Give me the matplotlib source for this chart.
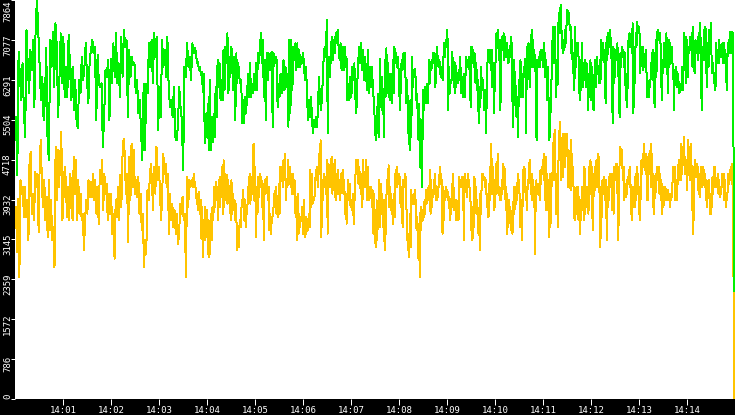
import numpy as np
import matplotlib
matplotlib.use("Agg")
import matplotlib.pyplot as plt
import matplotlib.transforms as mtransforms

# time window of each sampled block, minutes after 14:00
seg_times = [(0.02, 3.75), (3.77, 7.50), (7.52, 11.25), (11.27, 14.96)]
end_time = 14.98

green_a = [5561, 4410, 6844, 6351, 5890, 6614, 5693, 5166, 7272, 6548, 6022, 6877, 6482, 7074, 5758, 7436,
           7864, 7206, 6548, 5890, 6351, 5495, 5890, 6910, 5100, 4706, 7074, 6548, 7239, 6153, 7403, 6943,
           5561, 6285, 7206, 6219, 7140, 5956, 6548, 5956, 7173, 6614, 5890, 6548, 5693, 6285, 5495, 5331,
           6285, 6022, 6745, 6285, 6548, 7009, 6285, 5824, 6680, 6877, 7074, 6811, 6943, 5495, 6778, 6219,
           6153, 6219, 4969, 5561, 6482, 6351, 6680, 5495, 6712, 6219, 7009, 6351, 7206, 6219, 6614, 5956,
           7140, 6351, 7272, 6943, 7074, 5561, 6877, 6351, 6745, 6581, 6614, 6022, 6285, 5627, 5890, 5298,
           4706, 6219, 4903, 6219, 6022, 7009, 6548, 7074, 6219, 7206, 6745, 7140, 5298, 6153, 5561, 7074,
           6548, 6877, 6351, 7140, 6153, 5758, 5890, 5561, 6153, 5166, 5100, 5364, 6153, 5758, 5495, 4508,
           6548, 6351, 7009, 6548, 6745, 6285, 7009, 6811, 6910]
green_b = [6811, 6614, 6647, 6482, 6548, 6384, 6449, 6054, 6416, 5035, 5627, 5166, 5824, 4903, 6285, 4903,
           5561, 5067, 5627, 5166, 6153, 5561, 6680, 6153, 6614, 5890, 6285, 5890, 6877, 6087, 6943, 6614,
           7206, 6022, 6745, 6351, 6943, 6745, 6087, 6745, 5495, 6811, 6219, 6614, 6351, 6219, 6285, 5429,
           5890, 5429, 5956, 5627, 6022, 6416, 5956, 6614, 5956, 6153, 6022, 6416, 6087, 6614, 6087, 6811,
           6614, 6877, 7206, 6614, 7074, 5956, 6680, 5495, 6811, 6285, 6811, 6482, 6745, 6844, 5364, 6811,
           6614, 6745, 6680, 5758, 6219, 5956, 6416, 6022, 6285, 6680, 6087, 6548, 6153, 6416, 5364, 7074,
           5627, 7074, 6087, 6943, 6680, 7009, 6482, 7009, 6548, 6877, 6548, 6745, 6614, 6811, 6482, 6285,
           6548, 5890, 5495, 5890, 5561, 5956, 5495, 5232, 5495, 5364, 5561, 5364, 5693, 6351, 5956, 5693,
           5890, 6351, 6811, 6943, 6745, 7469, 5232, 6745, 6351, 6680, 7140, 6680, 7074, 6811, 7206, 7009,
           7272, 6943, 6680, 7009, 6482, 6943, 6482, 6943, 6548, 6745, 5890, 6219, 5890, 6351, 5956, 6548,
           6285, 6614, 5956, 5627, 6219, 6680, 6943, 6614, 7009, 6482, 6877, 6285, 6745, 6351, 6087, 6877,
           6022, 6548, 6153, 6548, 6022, 5890, 5298]
green_c = [5100, 5758, 5232, 6022, 5166, 6712, 5758, 6351, 5693, 5890, 5166, 6680, 5956, 6910, 6022, 6614,
           5956, 6416, 5890, 6416, 5824, 6680, 6022, 6943, 6614, 6811, 6548, 6745, 6548, 6087, 5693, 6285,
           6680, 6482, 6811, 6614, 6811, 6219, 5824, 6285, 5232, 5429, 4903, 5890, 5166, 6745, 6153, 6482,
           6351, 6515, 5890, 6022, 5627, 5100, 5824, 4574, 5495, 4179, 5166, 6087, 5693, 6153, 5824, 6022,
           6219, 5824, 6680, 6219, 6647, 6482, 6614, 6811, 6614, 6811, 6153, 6548, 6943, 6680, 6548, 6680,
           6416, 6351, 6548, 6285, 6712, 7009, 6745, 7074, 6943, 7272, 5693, 6548, 6022, 6285, 6219, 6844,
           6482, 6647, 6022, 6614, 6153, 6351, 6219, 6482, 6285, 6745, 6022, 6351, 5956, 6285, 6416, 5956,
           6745, 6548, 6680, 6614, 6745, 6219, 5758, 6943, 6614, 6877, 6548, 6811, 6219, 6614, 6087, 6285,
           5429, 6153, 5758, 6548, 6087, 6285, 6087, 5693, 6087, 5232, 5956, 6680, 6877, 6680, 6877, 6482,
           6877, 6153, 6614, 5627, 6285, 6680, 7206, 6943, 7272, 6680, 7074, 5693, 7009, 7140, 6877, 7206,
           6680, 7140, 6745, 7009, 6680, 6614, 6877, 6745, 7140, 7009, 5890, 5364, 6680, 6285, 6153, 5561,
           5956, 5166, 6285, 6087, 6680, 5956, 6219, 5956, 6548, 6482, 6712, 5232, 6943, 6811, 7009, 6351,
           6153, 6943, 7272, 7074, 6548, 6877, 6680, 6351, 5100, 6680, 6548, 6745, 6548, 6877, 6680, 6877,
           6548, 7009, 6811, 6351, 6680, 5890, 6548, 5890, 5100, 5495, 5890, 6548, 7140, 7338, 6614, 7338]
green_d = [5956, 6680, 6186, 7338, 7601, 7206, 7765, 7338, 7009, 6811, 7074, 6877, 7272, 7009, 7469, 7667,
           7535, 7601, 7272, 7338, 6811, 7074, 6416, 6811, 6087, 7338, 6548, 7009, 6943, 7009, 6351, 5890,
           6680, 6087, 7009, 6153, 6614, 6285, 6680, 6153, 6614, 6482, 5693, 6416, 5956, 6680, 5890, 6548,
           6219, 5693, 6285, 6680, 6153, 6745, 6416, 6548, 6219, 6680, 6219, 7074, 6680, 7009, 6680, 6877,
           6087, 5824, 7140, 6680, 7206, 6943, 7272, 7140, 7074, 6285, 5429, 6943, 6219, 6548, 6877, 6680,
           7009, 6680, 6153, 5561, 6811, 6548, 6943, 6745, 6877, 6548, 6811, 5890, 6416, 5758, 6943, 7140,
           7206, 6943, 7074, 6811, 7403, 5627, 6548, 6219, 7206, 6943, 7436, 7206, 7338, 7206, 6416, 6943,
           6614, 6943, 6482, 6745, 6614, 6877, 6482, 5956, 6153, 5956, 6285, 6153, 6614, 6416, 6877, 6351,
           5890, 5758, 7074, 6351, 7206, 7272, 7140, 7074, 7206, 6614, 5890, 6680, 6416, 7009, 6548, 7074,
           7206, 6745, 6022, 7074, 6548, 7009, 6680, 6943, 6614, 6548, 5693, 6482, 6219, 6548, 6153, 6416,
           6219, 6022, 6219, 6087, 6219, 6548, 6087, 7206, 6811, 7140, 6219, 7074, 6351, 6943, 6811, 7140,
           6877, 7206, 6548, 7338, 6548, 6416, 7074, 6811, 7009, 6680, 7206, 6811, 7403, 6877, 5693, 6943,
           6680, 7272, 6680, 7338, 6548, 6153, 7009, 6548, 7272, 6943, 7403, 6680, 6416, 6614, 6219, 6351,
           6087, 7009, 6614, 6877, 6614, 7074, 6745, 6943, 6745, 7009, 6614, 7009, 6614, 6877, 6351, 6087,
           7009, 6811, 7009, 7239, 6811, 7239, 6943, 7206]
green_end = 2130

yellow_a = [3784, 2896, 3949, 2403, 4311, 4048, 4179, 3587, 4179, 3587, 3916, 3126, 4706, 4870, 3653, 4048,
            3521, 4475, 4179, 4442, 3291, 4771, 5100, 4113, 3784, 4311, 3521, 3982, 3192, 4311, 3324, 3916,
            3126, 3390, 2600, 4969, 3916, 4903, 4179, 4706, 5265, 3521, 3982, 4574, 4311, 3587, 4179, 3521,
            4442, 3916, 3521, 4771, 4048, 4706, 3521, 4311, 3653, 4048, 3521, 3653, 2929, 3521, 3916, 3653,
            4311, 3982, 4278, 3982, 4442, 3916, 4311, 3653, 4179, 3455, 4508, 4245, 4706, 3719, 4442, 4048,
            4245, 3521, 4048, 3653, 4048, 3258, 3653, 2764, 3916, 3587, 4179, 3521, 4410, 3784, 4771, 5133,
            4837, 4048, 4442, 3094, 4771, 3916, 5035, 4179, 4903, 4048, 4311, 3982, 4377, 3653, 4048, 3324,
            3653, 2600, 3126, 2863, 4113, 3916, 4311, 4640, 4311, 3719, 4574, 4048, 4969, 4311, 4574, 4179,
            3521, 3982, 4837, 4442, 4640, 4179, 4442, 3258, 4048, 3521, 3850, 3390, 3719, 3258, 3653, 3061,
            3258, 3850, 3653, 3982, 3521, 3653, 2403, 4377, 3784, 4311, 4179, 4311, 4179, 4442, 4179]
yellow_b = [4146, 3850, 4048, 3719, 4081, 3653, 3916, 3159, 3784, 2797, 3521, 3126, 3784, 3258, 3719, 2863,
            3521, 2797, 3061, 3653, 3126, 3784, 3521, 4179, 3784, 4278, 3916, 4179, 3521, 4311, 3784, 4377,
            4179, 4574, 3653, 4706, 3784, 4442, 4179, 4410, 3850, 4311, 3916, 4179, 3521, 4311, 3653, 4048,
            3719, 3916, 3521, 3850, 2929, 3258, 2995, 3390, 3521, 3390, 3916, 3850, 4113, 3521, 3916, 3390,
            3784, 3653, 4179, 3916, 4442, 3850, 4311, 4048, 4574, 5035, 3916, 4574, 3192, 4179, 3653, 4377,
            3982, 4442, 4179, 4377, 3784, 4245, 3126, 4311, 4048, 4311, 4377, 3916, 4179, 3324, 3653, 3258,
            3521, 3587, 3653, 4048, 3784, 4179, 3653, 3916, 3587, 4245, 3653, 4574, 4311, 4574, 4179, 4706,
            4311, 4837, 3916, 4311, 4179, 4706, 4311, 4574, 4179, 4442, 4048, 4442, 4048, 4311, 3653, 3982,
            3126, 4048, 3258, 3653, 3390, 3587, 3521, 3784, 3258, 3916, 3192, 3587, 3258, 3521, 3324, 3653,
            3390, 4508, 3784, 4442, 3850, 3982, 3916, 4179, 4508, 4311, 4574, 4179, 4837, 4442, 5100, 3192,
            4311, 3916, 4442, 4179, 4377, 4048, 4706, 3258, 4640, 4442, 4179, 4574, 4771, 4048, 4640, 4179,
            4706, 3916, 4442, 4048, 4508, 4048, 4311, 3916, 4442, 4311, 4508, 4048, 4311, 3653, 4048, 3455,
            3916, 4311, 3916, 4245, 3784, 3916, 3719, 4048, 3455, 3916, 4311, 4706, 4442, 4706, 4245, 4574,
            4311, 4048, 4442, 3784, 4706, 4179, 4442, 4179, 4706, 3916, 4574, 3916, 4179, 4048, 4179, 3784,
            4113, 3258, 4048, 3126]
yellow_c = [2995, 3916, 3126, 3784, 3521, 4311, 3390, 4245, 3653, 4048, 3850, 3390, 3916, 2929, 3653, 3258,
            4179, 4311, 4179, 4607, 3784, 4179, 3719, 4048, 3653, 3916, 3455, 4048, 3587, 4442, 4179, 4574,
            4179, 4311, 4442, 4245, 4377, 3784, 4179, 3916, 3390, 4311, 4179, 4245, 4442, 4311, 3653, 3258,
            2929, 3258, 2797, 3653, 2995, 4113, 3916, 3982, 3850, 4048, 3850, 4113, 3653, 3324, 3587, 3258,
            2732, 3258, 2403, 3784, 3324, 3719, 3521, 3719, 3587, 3916, 3653, 4113, 3850, 3982, 3916, 4179,
            3982, 4508, 3653, 4311, 3784, 4048, 3982, 4311, 4048, 4442, 3916, 4179, 3916, 4048, 4179, 4311,
            4574, 4245, 4442, 4179, 3258, 4179, 3521, 3916, 4048, 4179, 3982, 4113, 4048, 3916, 3982, 3521,
            3916, 3653, 4245, 3784, 4442, 3916, 3719, 3916, 3521, 3916, 3587, 3653, 3521, 4377, 4179, 4311,
            4245, 4377, 4179, 4377, 3126, 4048, 4442, 4179, 4311, 3982, 4442, 4245, 4311, 4048, 3916, 3324,
            3521, 3126, 3784, 3390, 4377, 3916, 4179, 3653, 3916, 3653, 3258, 3587, 2929, 4048, 3653, 4442,
            4311, 4442, 4311, 4377, 4179, 4311, 4048, 3784, 4048, 3587, 3784, 4574, 3916, 5035, 4574, 4048,
            4574, 3719, 4311, 3784, 4179, 4640, 4442, 4837, 4048, 4179, 3916, 4048, 3916, 4311, 4048, 4640,
            4179, 4574, 4311, 3719, 4179, 3258, 3784, 3390, 3916, 3521, 3784, 3324, 3653, 3258, 3390, 4179,
            3653, 4179, 3850, 4048, 3916, 4442, 4179, 4311, 3916, 3390, 3916, 3126, 3653, 4508, 4311, 4574,
            4377, 3916, 4179, 3719, 4311, 4179, 4574, 4706, 4442, 4048, 4442, 3916, 4311, 3784, 4179, 2863,
            4048, 4311, 4048, 4179, 4113, 4245, 3916, 4508, 4245, 4574, 4442, 4706, 4311, 4837, 3916, 4771,
            3719, 4442, 3719, 4311, 3192, 4442, 3390, 3653, 4377, 4442, 4508, 5232, 4311, 5298]
yellow_d = [3653, 4311, 3916, 3390, 4969, 5232, 5462, 5100, 4311, 5035, 4377, 5232, 5035, 5232, 4574, 5100,
            4837, 5232, 4179, 4903, 4179, 4574, 4113, 5100, 4508, 4574, 4311, 4048, 3521, 4048, 3653, 4179,
            3850, 4179, 3521, 3982, 3258, 3916, 3521, 4179, 3784, 3916, 3521, 4574, 3653, 4179, 3784, 4048,
            4179, 3653, 4574, 4048, 4706, 4311, 4574, 3587, 3324, 4442, 4048, 4574, 4179, 4706, 4179, 4837,
            4574, 4771, 3653, 2995, 4179, 3587, 4311, 4048, 4245, 4377, 3916, 4311, 3653, 3126, 4179, 3784,
            4377, 4179, 4442, 4179, 4442, 3719, 4048, 3653, 4574, 4311, 4640, 4311, 4640, 3916, 3126, 4179,
            4706, 4969, 4837, 4903, 4640, 4311, 4574, 3916, 4245, 3982, 4179, 4048, 4377, 4311, 4508, 4179,
            4574, 3653, 3916, 3521, 4179, 3850, 4179, 3784, 4442, 3916, 4574, 4048, 4442, 3653, 4179, 3521,
            4442, 4706, 4442, 4837, 4574, 5035, 4508, 4837, 4442, 4640, 3916, 4771, 4442, 4837, 4771, 5035,
            4179, 4837, 3784, 4442, 3653, 4179, 4048, 4442, 4311, 4574, 4311, 4574, 4048, 4442, 3916, 4311,
            3653, 4179, 3784, 4048, 3916, 4179, 3982, 4113, 3916, 4113, 3916, 4048, 3784, 4048, 3916, 4179,
            4311, 4574, 4311, 4574, 3916, 4311, 3916, 4179, 4377, 4706, 4311, 4574, 4311, 5035, 4442, 4837,
            4903, 5166, 4442, 4771, 4442, 4706, 4113, 5100, 4574, 4969, 4311, 4837, 5035, 3719, 4574, 3258,
            4048, 4442, 4706, 4377, 4640, 4442, 4574, 4048, 4442, 3982, 4311, 4574, 4179, 4574, 4311, 4508,
            4179, 4442, 3916, 4311, 3784, 4179, 4048, 4311, 3653, 4048, 3653, 3916, 4377, 4048, 4574, 4179,
            4574, 4179, 4311, 4179, 4442, 4048, 4311, 3982, 4179, 4048, 4311, 4442, 4179, 4442, 3916, 4311,
            3784, 4048, 3916, 4179, 4442, 4245, 4508, 4311, 4574, 4245, 4640, 4311]
yellow_end = 0

y_max = 7864
y_labels = ['0', '786', '1572', '2359', '3145', '3932', '4718', '5504', '6291', '7077', '7864']
x_labels = ['14:%02d' % m for m in range(1, 15)]


def build(segments, last):
    t = [np.linspace(a, b, len(s)) for (a, b), s in zip(seg_times, segments)]
    t = np.concatenate(t + [[end_time]])
    v = np.concatenate([np.array(s, dtype=float) for s in segments] + [[last]])
    return t, v


t_y, v_y = build([yellow_a, yellow_b, yellow_c, yellow_d], yellow_end)
t_g, v_g = build([green_a, green_b, green_c, green_d], green_end)

fig = plt.figure(figsize=(7.35, 4.15), dpi=100, facecolor='black')
ax = fig.add_axes([15 / 735, 16 / 415, 720 / 735, 399 / 415], facecolor='white')

ax.plot(t_y, v_y, color='#ffc400', lw=0.72, antialiased=False)
ax.plot(t_g, v_g, color='#00f000', lw=0.72, antialiased=False)

ax.set_xlim(0, 15)
ax.set_ylim(0, y_max)
for s in ax.spines.values():
    s.set_visible(False)

mono = 'DejaVu Sans Mono'
ax.set_xticks(range(1, 15))
ax.set_xticklabels(x_labels, fontfamily=mono, fontsize=6.5)
ax.tick_params(axis='x', colors='white', length=4, width=0.72, direction='out', pad=1)

y_ticks = np.linspace(0, y_max, len(y_labels))
ax.set_yticks(y_ticks)
ax.tick_params(axis='y', colors='white', length=3, width=0.72, direction='out', labelleft=False)

trans = mtransforms.blended_transform_factory(ax.transAxes, ax.transData)
for i, (v, lab) in enumerate(zip(y_ticks, y_labels)):
    if i == 0:
        va, dy = 'bottom', 0
    elif i == len(y_labels) - 1:
        va, dy = 'top', 0
    else:
        va, dy = 'center', -0.05
    off = mtransforms.ScaledTranslation(-0.03, dy, fig.dpi_scale_trans)
    ax.text(0, v, lab, rotation=90, ha='right', va=va, color='white',
            fontfamily=mono, fontsize=6.5, transform=trans + off, clip_on=False)

fig.savefig('out.png', dpi=100, facecolor='black')
